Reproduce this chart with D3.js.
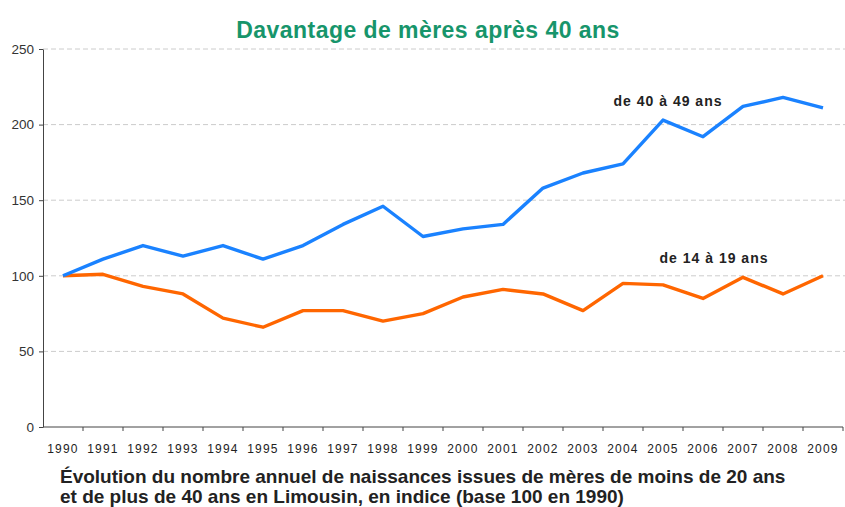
<!DOCTYPE html>
<html>
<head>
<meta charset="utf-8">
<script src="https://cdn.jsdelivr.net/npm/d3@7/dist/d3.min.js"></script>
<style>
  body { margin: 0; background: #fff; }
  svg { font-family: "Liberation Sans", Arial, sans-serif; }
</style>
</head>
<body>
<svg id="chart" width="845" height="507"></svg>
<script>
var years = ['1990', '1991', '1992', '1993', '1994', '1995', '1996', '1997', '1998', '1999',
             '2000', '2001', '2002', '2003', '2004', '2005', '2006', '2007', '2008', '2009'];
var older = [100, 111, 120, 113, 120, 111, 120, 134, 146, 126,
             131, 134, 158, 168, 174, 203, 192, 212, 218, 211];
var younger = [100, 101, 93, 88, 72, 66, 77, 77, 70, 75,
               86, 91, 88, 77, 95, 94, 85, 99, 88, 100];
var yTicks = [0, 50, 100, 150, 200, 250];

var svg = d3.select('#chart');

var x = d3.scalePoint()
    .domain(years)
    .range([43, 843])
    .padding(0.5);

var y = d3.scaleLinear()
    .domain([0, 250])
    .range([427, 49]);

// gridlines
svg.append('g')
    .selectAll('line')
    .data(yTicks.filter(function(d) { return d > 0; }))
    .enter().append('line')
    .attr('x1', 43)
    .attr('x2', 845)
    .attr('y1', function(d) { return y(d); })
    .attr('y2', function(d) { return y(d); })
    .attr('stroke', '#cccccc')
    .attr('stroke-width', 1)
    .attr('stroke-dasharray', '5,3');

// y axis
var yAxis = svg.append('g')
    .attr('transform', 'translate(43,0)')
    .call(d3.axisLeft(y).tickValues(yTicks).tickSize(4).tickSizeOuter(0).tickPadding(5));
yAxis.selectAll('text').attr('font-size', 13.5).attr('fill', '#333');
yAxis.selectAll('line, path').attr('stroke', '#444');

// x axis, ticks between categories
var xAxis = svg.append('g')
    .attr('transform', 'translate(0,427)');
xAxis.append('line')
    .attr('x1', 43).attr('x2', 843)
    .attr('stroke', '#444');
xAxis.selectAll('.tick')
    .data(years)
    .enter().append('line')
    .attr('x1', function(d) { return x(d) + x.step() / 2; })
    .attr('x2', function(d) { return x(d) + x.step() / 2; })
    .attr('y1', 0).attr('y2', 4)
    .attr('stroke', '#444');
xAxis.selectAll('text')
    .data(years)
    .enter().append('text')
    .attr('x', function(d) { return x(d); })
    .attr('y', 26)
    .attr('text-anchor', 'middle')
    .attr('font-size', 12)
    .attr('letter-spacing', 1.2)
    .attr('fill', '#222')
    .text(function(d) { return d; });

var line = d3.line()
    .x(function(d, i) { return x(years[i]); })
    .y(function(d) { return y(d); });

svg.append('path')
    .datum(younger)
    .attr('d', line)
    .attr('fill', 'none')
    .attr('stroke', '#ff6600')
    .attr('stroke-width', 3.4)
    .attr('stroke-linejoin', 'round');

svg.append('path')
    .datum(older)
    .attr('d', line)
    .attr('fill', 'none')
    .attr('stroke', '#1a82ff')
    .attr('stroke-width', 3.4)
    .attr('stroke-linejoin', 'round');

// series labels
svg.append('text')
    .attr('x', 668).attr('y', 106)
    .attr('text-anchor', 'middle')
    .attr('font-size', 14).attr('font-weight', 'bold')
    .attr('letter-spacing', 1)
    .attr('fill', '#222')
    .text('de 40 à 49 ans');

svg.append('text')
    .attr('x', 714).attr('y', 263)
    .attr('text-anchor', 'middle')
    .attr('font-size', 14).attr('font-weight', 'bold')
    .attr('letter-spacing', 1)
    .attr('fill', '#222')
    .text('de 14 à 19 ans');

// title
svg.append('text')
    .attr('x', 428).attr('y', 38)
    .attr('text-anchor', 'middle')
    .attr('font-size', 23).attr('font-weight', 'bold')
    .attr('letter-spacing', 0.45)
    .attr('fill', '#17956b')
    .text('Davantage de mères après 40 ans');

// caption
var caption = svg.append('text')
    .attr('x', 60).attr('y', 483)
    .attr('font-size', 19).attr('font-weight', 'bold')
    .attr('fill', '#222');
caption.append('tspan')
    .attr('x', 60)
    .text('Évolution du nombre annuel de naissances issues de mères de moins de 20 ans');
caption.append('tspan')
    .attr('x', 60).attr('dy', 20)
    .text('et de plus de 40 ans en Limousin, en indice (base 100 en 1990)');
</script>
</body>
</html>
